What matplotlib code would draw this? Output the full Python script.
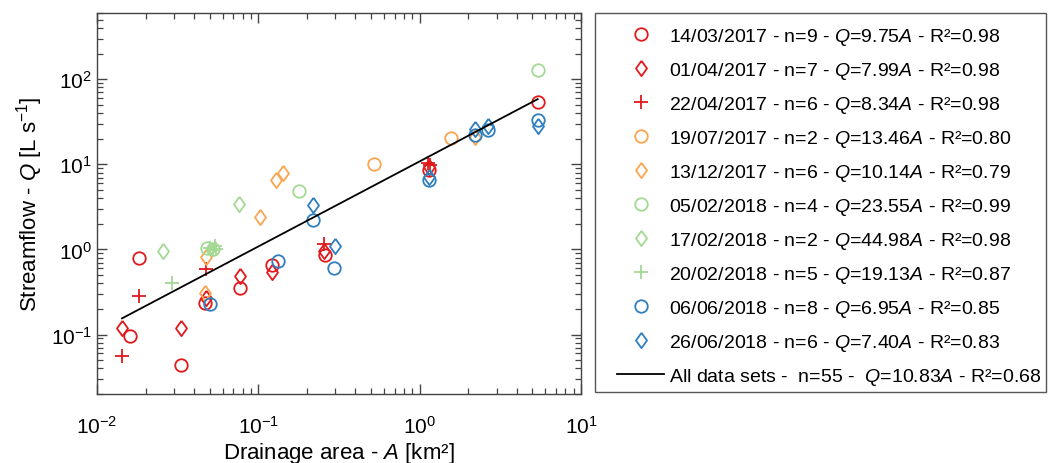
import numpy as np
import matplotlib
matplotlib.use("Agg")
import matplotlib.pyplot as plt
from matplotlib.ticker import LogLocator, NullFormatter
from matplotlib.patches import Rectangle

plt.rcParams['font.family'] = ['Liberation Sans', 'DejaVu Sans']
plt.rcParams['mathtext.fontset'] = 'custom'
plt.rcParams['mathtext.rm'] = 'Liberation Sans'
plt.rcParams['mathtext.it'] = 'Liberation Sans:italic'

# campaigns (date, n, fitted coefficient, R2)
dates = ["14/03/2017", "01/04/2017", "22/04/2017", "19/07/2017", "13/12/2017",
         "05/02/2018", "17/02/2018", "20/02/2018", "06/06/2018", "26/06/2018"]
n_pts = [9, 7, 6, 2, 6, 4, 2, 5, 8, 6]
coefs = ["9.75", "7.99", "8.34", "13.46", "10.14", "23.55", "44.98", "19.13", "6.95", "7.40"]
r2 = ["0.98", "0.98", "0.98", "0.80", "0.79", "0.99", "0.98", "0.87", "0.85", "0.83"]

# drainage area [km2] / streamflow [L/s]
A_1403 = [0.0161, 0.0181, 0.033, 0.0466, 0.0772, 0.121, 0.258, 1.15, 5.39]
Q_1403 = [0.095, 0.80, 0.044, 0.233, 0.35, 0.655, 0.86, 8.6, 53.4]
A_0104 = [0.0143, 0.033, 0.0473, 0.0772, 0.121, 0.256, 1.15]
Q_0104 = [0.119, 0.119, 0.27, 0.487, 0.55, 0.97, 9.4]
A_2204 = [0.0143, 0.0181, 0.0473, 0.254, 1.13, 1.16]
Q_2204 = [0.0565, 0.28, 0.59, 1.17, 10.3, 9.7]
A_1907 = [0.524, 1.56]
Q_1907 = [10.1, 20.4]
A_1312 = [0.128, 0.143, 0.103, 0.0473, 0.0466, 2.21]
Q_1312 = [6.46, 7.95, 2.41, 0.82, 0.305, 20.8]
A_0502 = [0.0479, 0.179, 5.39, 0.052]
Q_0502 = [1.03, 4.81, 127.0, 1.0]
A_1702 = [0.0256, 0.0757]
Q_1702 = [0.955, 3.45]
A_2002 = [0.0291, 0.050, 0.052, 0.054, 0.055]
Q_2002 = [0.40, 1.05, 0.98, 1.1, 1.02]
A_0606 = [0.0505, 0.133, 0.219, 0.294, 1.15, 2.21, 2.67, 5.39]
Q_0606 = [0.227, 0.74, 2.2, 0.60, 6.47, 22.1, 25.5, 33.4]
A_2606 = [0.219, 0.297, 1.15, 2.21, 2.67, 5.39]
Q_2606 = [3.3, 1.09, 7.1, 25.9, 28.4, 28.4]

all_coef = 10.83
all_n = 55
all_r2 = "0.68"

A_sets = [A_1403, A_0104, A_2204, A_1907, A_1312, A_0502, A_1702, A_2002, A_0606, A_2606]
Q_sets = [Q_1403, Q_0104, Q_2204, Q_1907, Q_1312, Q_0502, Q_1702, Q_2002, Q_0606, Q_2606]

red = '#e2191c'
orange = '#fba54f'
green = '#a3d994'
blue = '#2f7fc0'
colors = [red, red, red, orange, orange, green, green, green, blue, blue]
diamond = [(0, 1), (0.72, 0), (0, -1), (-0.72, 0), (0, 1)]
markers = ['o', diamond, '+', 'o', diamond, 'o', diamond, '+', 'o', diamond]
msizes = [9, 11, 10, 9, 11, 9, 11, 10, 9, 11]

fig = plt.figure(figsize=(10.49, 4.64), dpi=100)
ax = fig.add_axes([97/1049, 1-395/464, (581-97)/1049, (395-14)/464])

handles = []
for i in range(len(dates)):
    lab = dates[i] + " - n=" + str(n_pts[i]) + " - $\\mathit{Q}$=" + coefs[i] + "$\\mathit{A}$ - R²=" + r2[i]
    h, = ax.plot(A_sets[i], Q_sets[i], linestyle='none', marker=markers[i],
                 markersize=msizes[i], markerfacecolor='none', markeredgecolor=colors[i],
                 markeredgewidth=1.3, label=lab)
    handles.append(h)

A_all = np.concatenate([np.array(a) for a in A_sets])
xf = np.array([A_all.min(), A_all.max()])
lf, = ax.plot(xf, all_coef*xf, color='black', linewidth=1.3,
              label="All data sets -  n=" + str(all_n) + " -  $\\mathit{Q}$=" + str(all_coef) + "$\\mathit{A}$ - R²=" + all_r2)
handles.append(lf)

ax.set_xscale('log')
ax.set_yscale('log')
ax.set_xlim(1e-2, 1e1)
ax.set_ylim(0.02, 600)
for axis in [ax.xaxis, ax.yaxis]:
    axis.set_minor_locator(LogLocator(base=10, subs=np.arange(2, 10), numticks=20))
    axis.set_minor_formatter(NullFormatter())
ax.tick_params(which='both', direction='in', top=True, right=True, labelsize=15, colors='#444444')
ax.tick_params(which='major', length=7, width=1.0)
ax.tick_params(which='minor', length=4, width=0.9)
ax.tick_params(axis='x', pad=15)
for s in ax.spines.values():
    s.set_color('#444444')
    s.set_linewidth(1.0)
for t in ax.get_xticklabels() + ax.get_yticklabels():
    t.set_color('black')
ax.set_xlabel("Drainage area - $\\mathit{A}$ [km²]", fontsize=16, labelpad=2)
ax.set_ylabel("Streamflow - $\\mathit{Q}$ [L s$^{-1}$]", fontsize=16)

# legend box drawn separately so the padding matches
fig.patches.append(Rectangle((595/1049, 1-393/464), (1046-595)/1049, (393-14)/464,
                             transform=fig.transFigure, fill=False,
                             edgecolor='#555555', linewidth=1.0))
leg = fig.legend(handles=handles, loc='upper left', bbox_to_anchor=(617/1049, 1-27/464),
                 fontsize=14, frameon=False,
                 handlelength=2.42, handletextpad=0.26, labelspacing=0.67,
                 borderpad=0, borderaxespad=0)

fig.savefig('out.png', dpi=100)
